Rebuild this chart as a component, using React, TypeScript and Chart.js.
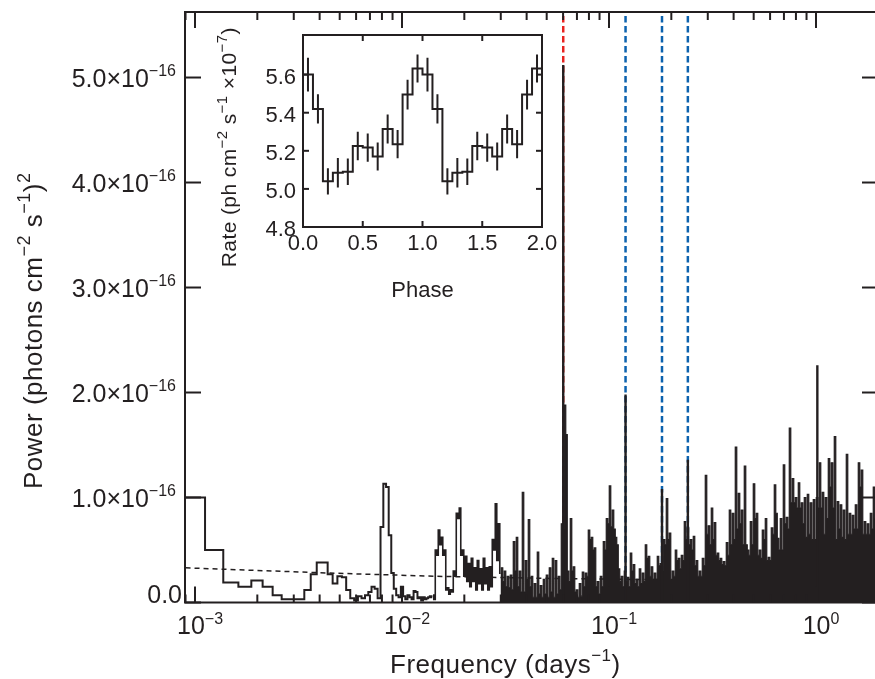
import React, { useEffect, useRef } from 'react';
import { Chart, registerables } from 'chart.js';

Chart.register(...registerables);

// ================= MAIN PERIODOGRAM (power in units of 1e-16) =================
// Low-frequency part: one value per Fourier frequency k * FREQ_SPACING, k = FIRST_INDEX ...
const FREQ_SPACING = 0.00025; // days^-1
const FIRST_INDEX = 4;
const lowFreqPower = [
  1.0, 0.5, 0.19, 0.15, 0.21, 0.15, 0.07, 0.03, 0.03, 0.03,
  0.12, 0.27, 0.38, 0.38, 0.27, 0.18, 0.25, 0.24, 0.12, 0.04,
  0.02, 0.06, 0.04, 0.07, 0.1, 0.15, 0.13, 0.04, 0.72, 1.13,
  1.1, 0.64, 0.28, 0.13, 0.07, 0.05, 0.15, 0.06, 0.03, 0.07,
  0.05, 0.03, 0.11, 0.1, 0.04, 0.05, 0.02, 0.05, 0.03, 0.04,
  0.05, 0.06, 0.05,
];

// Dense high-frequency forest, sampled on a log-frequency grid: spike tops and the dips after them
const forestLogF0 = -1.8502;
const forestDLogF = 0.014493;
const forestPeak = [
  0.07, 0.5, 0.69, 0.62, 0.5, 0.14, 0.12, 0.3, 0.85, 0.9,
  0.5, 0.44, 0.37, 0.42, 0.33, 0.4, 0.32, 0.42, 0.33, 0.34,
  0.6, 0.94, 0.75, 0.33, 0.3, 0.25, 0.26, 0.58, 0.62, 0.3,
  1.05, 0.4, 0.79, 0.25, 0.18, 0.48, 0.16, 0.22, 0.26, 0.33,
  0.42, 0.4, 0.25, 0.75, 1.88, 0.3, 0.8, 0.34, 0.12, 0.18,
  0.29, 0.28, 0.69, 0.62, 0.52, 0.2, 0.25, 0.58, 0.8, 1.11,
  0.88, 0.62, 0.32, 0.25, 0.3, 0.24, 0.47, 0.36, 0.22, 0.32,
  0.28, 0.55, 0.44, 0.34, 0.28, 0.44, 0.37, 0.6, 0.99, 0.66,
  0.3, 0.5, 0.42, 0.45, 0.77, 0.71, 0.6, 0.63, 0.4, 0.3,
  0.42, 1.21, 0.73, 0.9, 0.76, 0.47, 0.42, 0.39, 0.57, 0.88,
  0.85, 1.48, 1.04, 0.88, 1.3, 0.5, 0.77, 1.13, 0.85, 0.5,
  0.69, 0.8, 0.43, 0.71, 1.12, 0.61, 0.8, 1.31, 0.81, 1.66,
  1.18, 1.0, 1.14, 0.95, 1.0, 1.03, 0.95, 0.98, 1.0, 1.33,
  1.05, 1.0, 1.37, 1.33, 1.58, 0.96, 0.93, 0.88, 1.41, 0.85,
  0.83, 0.93, 1.33, 1.26, 0.77, 0.75, 0.85, 1.1, 0.9,
];
const forestTrough = [
  0.03, 0.45, 0.55, 0.45, 0.12, 0.08, 0.1, 0.25, 0.8, 0.45,
  0.25, 0.2, 0.15, 0.2, 0.12, 0.18, 0.12, 0.18, 0.12, 0.15,
  0.5, 0.4, 0.28, 0.2, 0.15, 0.14, 0.12, 0.3, 0.15, 0.1,
  0.1, 0.22, 0.15, 0.05, 0.05, 0.08, 0.05, 0.08, 0.05, 0.1,
  0.05, 0.08, 0.12, 0.7, 1.6, 0.2, 0.3, 0.1, 0.05, 0.06,
  0.15, 0.25, 0.6, 0.5, 0.15, 0.08, 0.15, 0.5, 0.75, 0.72,
  0.7, 0.55, 0.2, 0.15, 0.2, 0.15, 0.3, 0.18, 0.15, 0.18,
  0.2, 0.42, 0.25, 0.22, 0.22, 0.35, 0.3, 0.55, 0.6, 0.22,
  0.25, 0.4, 0.32, 0.4, 0.6, 0.55, 0.5, 0.35, 0.25, 0.25,
  0.35, 0.65, 0.55, 0.6, 0.45, 0.4, 0.36, 0.35, 0.45, 0.55,
  0.6, 0.7, 0.75, 0.55, 0.55, 0.45, 0.55, 0.8, 0.45, 0.42,
  0.6, 0.4, 0.4, 0.65, 0.85, 0.5, 0.5, 0.75, 0.7, 0.95,
  0.95, 0.9, 0.9, 0.75, 0.62, 0.65, 0.6, 0.6, 0.9, 0.9,
  0.65, 0.8, 1.1, 0.9, 0.6, 0.7, 0.62, 0.6, 0.65, 0.65,
  0.7, 0.7, 1.1, 0.65, 0.65, 0.65, 0.7, 0.8, 0.7,
];
const FOREST_FILL_FROM = 22; // columns before this are drawn as an outline only

// Narrow prominent lines (orbital fundamental, harmonics, 1-day)
const lineFreqs = [0.0601, 0.1202, 0.1803, 0.2404, 1.015];
const linePeaks = [5.12, 1.98, 1.08, 1.36, 2.26];

// Marker lines at the fundamental and its harmonics
const harmonicFreqs = [0.0601, 0.1202, 0.1803, 0.2404];
const harmonicColors = ['#e8231f', '#0c62ae', '#0c62ae', '#0c62ae'];

// Noise level (dashed)
const noiseFreq = [0.0009, 0.0045, 0.0145, 0.05, 0.13, 0.5, 2.0];
const noisePower = [0.33, 0.28, 0.25, 0.23, 0.22, 0.21, 0.2];

const X_MIN = 8.946e-4;
const X_MAX = 1.993;
const Y_MAX = 5.624;
const xMajorTicks = [0.001, 0.01, 0.1, 1];
const xMajorExp = ['\u22123', '\u22122', '\u22121', '0'];
const yTicks = [0, 1, 2, 3, 4, 5];
const yTickMantissa = ['0.0', '1.0', '2.0', '3.0', '4.0', '5.0'];
const yTickExp = '\u221216';

// ================= INSET: folded light curve =================
const PHASE_BINS = 12;
const PHASE_CYCLES = 2;
const phaseRate = [5.6, 5.42, 5.04, 5.085, 5.09, 5.225, 5.217, 5.17, 5.315, 5.235, 5.495, 5.632];
const phaseErr = [0.089, 0.077, 0.069, 0.077, 0.07, 0.075, 0.074, 0.074, 0.076, 0.074, 0.078, 0.074];
const insetXTicks = [0, 0.5, 1, 1.5, 2];
const insetXLabels = ['0.0', '0.5', '1.0', '1.5', '2.0'];
const insetYTicks = [4.8, 5.0, 5.2, 5.4, 5.6];
const insetYLabels = ['4.8', '5.0', '5.2', '5.4', '5.6'];

const INK = '#231f20';
const FONT = '"Liberation Sans", Arial, Helvetica, sans-serif';

type Part = [string, boolean?];

function font(size: number) {
  return `${size}px ${FONT}`;
}
function setSpacing(ctx: any, px: number) {
  if ('letterSpacing' in ctx) ctx.letterSpacing = `${px}px`;
}
function partsWidth(ctx: CanvasRenderingContext2D, parts: Part[], size: number, sup: number) {
  let w = 0;
  for (const [t, s] of parts) {
    ctx.font = font(s ? sup : size);
    w += ctx.measureText(t).width;
  }
  return w;
}
function drawParts(ctx: CanvasRenderingContext2D, parts: Part[], x: number, y: number, size: number, sup: number, raise: number) {
  let cx = x;
  ctx.textAlign = 'left';
  ctx.textBaseline = 'alphabetic';
  for (const [t, s] of parts) {
    ctx.font = font(s ? sup : size);
    ctx.fillText(t, cx, s ? y - raise : y);
    cx += ctx.measureText(t).width;
  }
}
function seg(ctx: CanvasRenderingContext2D, x1: number, y1: number, x2: number, y2: number) {
  ctx.beginPath();
  ctx.moveTo(x1, y1);
  ctx.lineTo(x2, y2);
  ctx.stroke();
}

const mainFrame = {
  id: 'mainFrame',
  afterDraw(chart: any) {
    const { ctx, chartArea: a, scales } = chart;
    const xs = scales.x;
    const ys = scales.y;
    ctx.save();
    ctx.strokeStyle = INK;
    ctx.fillStyle = INK;
    ctx.lineWidth = 2;
    ctx.strokeRect(a.left, a.top, a.right - a.left, a.bottom - a.top);
    // y ticks
    yTicks.forEach((v) => {
      const py = ys.getPixelForValue(v);
      seg(ctx, a.left, py, a.left + 16, py);
      seg(ctx, a.right, py, a.right - 16, py);
    });
    // x ticks (log, major + minor)
    for (let d = -4; d <= 0; d++) {
      for (let m = 1; m <= 9; m++) {
        const v = m * Math.pow(10, d);
        if (v <= X_MIN || v >= X_MAX) continue;
        const px = xs.getPixelForValue(v);
        const len = m === 1 ? 16 : 8;
        seg(ctx, px, a.bottom, px, a.bottom - len);
        seg(ctx, px, a.top, px, a.top + len);
      }
    }
    // y labels
    yTicks.forEach((v, i) => {
      const py = ys.getPixelForValue(v);
      if (v === 0) {
        const parts: Part[] = [[yTickMantissa[i]]];
        const w = partsWidth(ctx, parts, 25, 16);
        drawParts(ctx, parts, 182 - w, a.bottom + 0.5, 25, 16, 11);
      } else {
        const parts: Part[] = [[yTickMantissa[i] + '\u00d710'], [yTickExp, true]];
        const w = partsWidth(ctx, parts, 25, 16);
        drawParts(ctx, parts, 176 - w, py + 9.5, 25, 16, 11);
      }
    });
    // x labels
    xMajorTicks.forEach((v, i) => {
      const px = xs.getPixelForValue(v);
      const parts: Part[] = [['10'], [xMajorExp[i], true]];
      const w = partsWidth(ctx, parts, 25, 16);
      drawParts(ctx, parts, px + 5 - w / 2, 634, 25, 16, 10);
    });
    // titles
    setSpacing(ctx, 0.5);
    drawParts(ctx, [['Frequency (days'], ['\u22121', true], [')']], 390, 673, 26, 17, 12);
    ctx.save();
    ctx.translate(42, 489);
    ctx.rotate(-Math.PI / 2);
    drawParts(ctx, [['Power (photons cm'], ['\u22122', true], [' s'], ['\u22121', true], [')'], ['2', true]], 0, 0, 26, 18, 12);
    ctx.restore();
    setSpacing(ctx, 0);
    ctx.restore();
  },
};

const insetFrame = {
  id: 'insetFrame',
  beforeDraw(chart: any) {
    const { ctx, chartArea: a } = chart;
    ctx.save();
    ctx.fillStyle = '#ffffff';
    ctx.fillRect(a.left, a.top, a.right - a.left, a.bottom - a.top);
    ctx.restore();
  },
  afterDraw(chart: any) {
    const { ctx, chartArea: a, scales } = chart;
    const xs = scales.x;
    const ys = scales.y;
    ctx.save();
    ctx.strokeStyle = INK;
    ctx.fillStyle = INK;
    ctx.lineWidth = 2;
    ctx.strokeRect(a.left, a.top, a.right - a.left, a.bottom - a.top);
    insetXTicks.forEach((v, i) => {
      const px = xs.getPixelForValue(v);
      if (i > 0 && i < insetXTicks.length - 1) {
        seg(ctx, px, a.bottom, px, a.bottom - 6);
        seg(ctx, px, a.top, px, a.top + 6);
      }
      const parts: Part[] = [[insetXLabels[i]]];
      const w = partsWidth(ctx, parts, 22, 15);
      drawParts(ctx, parts, px - w / 2, 230, 22, 15, 8);
    });
    insetYTicks.forEach((v, i) => {
      const py = ys.getPixelForValue(v);
      if (i > 0) {
        seg(ctx, a.left, py, a.left + 6, py);
        seg(ctx, a.right, py, a.right - 6, py);
      }
      const parts: Part[] = [[insetYLabels[i]]];
      const w = partsWidth(ctx, parts, 22, 15);
      drawParts(ctx, parts, 96 - w, py + 9, 22, 15, 8);
    });
    // x title
    const ph: Part[] = [['Phase']];
    const pw = partsWidth(ctx, ph, 22, 15);
    drawParts(ctx, ph, (a.left + a.right) / 2 - pw / 2, 277, 22, 15, 8);
    // y title
    const rt: Part[] = [['Rate (ph cm'], ['\u22122', true], [' s'], ['\u22121', true], [' \u00d710'], ['\u22127', true], [')']];
    const rw = partsWidth(ctx, rt, 21, 15);
    ctx.save();
    ctx.translate(36, 128);
    ctx.rotate(-Math.PI / 2);
    setSpacing(ctx, 0.4);
    drawParts(ctx, rt, -rw / 2 - 4, 0, 21, 15, 9);
    setSpacing(ctx, 0);
    ctx.restore();
    ctx.restore();
  },
};

function mainConfig(): any {
  const lowPts = [{ x: X_MIN, y: lowFreqPower[0] }].concat(
    lowFreqPower.map((p, i) => ({ x: (FIRST_INDEX + i) * FREQ_SPACING, y: p }))
  );
  const forestPts: { x: number; y: number }[] = [];
  forestPeak.forEach((p, i) => {
    const lf = forestLogF0 + i * forestDLogF;
    forestPts.push({ x: Math.pow(10, lf), y: p });
    forestPts.push({ x: Math.pow(10, lf + forestDLogF / 2), y: forestTrough[i] });
  });
  const forestOutline = forestPts.slice(0, 2 * FOREST_FILL_FROM + 2);
  const forestFilled = forestPts.slice(2 * FOREST_FILL_FROM + 1);
  const spikePts: { x: number; y: number | null }[] = [];
  lineFreqs.forEach((f, i) => {
    spikePts.push({ x: f, y: 0 }, { x: f, y: linePeaks[i] }, { x: f, y: null });
  });
  const noisePts = noiseFreq.map((f, i) => ({ x: f, y: noisePower[i] }));

  const datasets: any[] = [
    { data: spikePts, borderColor: INK, borderWidth: 2.4, order: 0, spanGaps: false },
    { data: lowPts, borderColor: INK, borderWidth: 2, stepped: 'middle', order: 1 },
    { data: forestOutline, borderColor: INK, borderWidth: 1.6, stepped: 'middle', order: 2 },
    { data: forestFilled, borderColor: INK, borderWidth: 1.2, stepped: 'middle', fill: 'origin', backgroundColor: INK, order: 3 },
    { data: noisePts, borderColor: INK, borderWidth: 1.5, borderDash: [5, 4], order: 5 },
  ];
  harmonicFreqs.forEach((f, i) => {
    datasets.push({
      data: [{ x: f, y: 0 }, { x: f, y: Y_MAX }],
      borderColor: harmonicColors[i],
      borderWidth: 2.5,
      borderDash: [6.5, 3.5],
      order: 4,
    });
  });

  return {
    type: 'line',
    data: { datasets },
    options: {
      animation: false,
      responsive: false,
      devicePixelRatio: 1,
      events: [],
      layout: { padding: { left: 185, right: 2, top: 12, bottom: 76.5 } },
      scales: {
        x: { type: 'logarithmic', min: X_MIN, max: X_MAX, display: false },
        y: { type: 'linear', min: 0, max: Y_MAX, display: false },
      },
      elements: { point: { radius: 0 }, line: { tension: 0 } },
      plugins: { legend: { display: false }, tooltip: { enabled: false } },
    },
    plugins: [mainFrame],
  };
}

function insetConfig(): any {
  const nBins = PHASE_BINS * PHASE_CYCLES;
  const stepPts: { x: number; y: number }[] = [];
  const errPts: { x: number; y: number | null }[] = [];
  for (let j = 0; j < nBins; j++) {
    const v = phaseRate[j % PHASE_BINS];
    const e = phaseErr[j % PHASE_BINS];
    stepPts.push({ x: j / PHASE_BINS, y: v });
    const xc = (j + 0.5) / PHASE_BINS;
    errPts.push({ x: xc, y: v - e }, { x: xc, y: v + e }, { x: xc, y: null });
  }
  stepPts.push({ x: PHASE_CYCLES, y: phaseRate[PHASE_BINS - 1] });
  return {
    type: 'line',
    data: {
      datasets: [
        { data: stepPts, borderColor: INK, borderWidth: 2, stepped: true },
        { data: errPts, borderColor: INK, borderWidth: 2, spanGaps: false },
      ],
    },
    options: {
      animation: false,
      responsive: false,
      devicePixelRatio: 1,
      events: [],
      layout: { padding: { left: 103, right: 28, top: 15, bottom: 83 } },
      scales: {
        x: { type: 'linear', min: 0, max: 2, display: false },
        y: { type: 'linear', min: 4.8, max: 5.808, display: false },
      },
      elements: { point: { radius: 0 }, line: { tension: 0 } },
      plugins: { legend: { display: false }, tooltip: { enabled: false } },
    },
    plugins: [insetFrame],
  };
}

export default function App() {
  const mainRef = useRef<HTMLCanvasElement>(null);
  const insetRef = useRef<HTMLCanvasElement>(null);
  useEffect(() => {
    const main = new Chart(mainRef.current as HTMLCanvasElement, mainConfig());
    const inset = new Chart(insetRef.current as HTMLCanvasElement, insetConfig());
    return () => {
      main.destroy();
      inset.destroy();
    };
  }, []);
  return (
    <div style={{ position: 'fixed', left: 0, top: 0, width: 875, height: 679, overflow: 'hidden', background: '#fff' }}>
      <canvas ref={mainRef} width={880} height={679} style={{ position: 'absolute', left: 0, top: 0 }} />
      <canvas ref={insetRef} width={370} height={290} style={{ position: 'absolute', left: 200, top: 20 }} />
    </div>
  );
}
